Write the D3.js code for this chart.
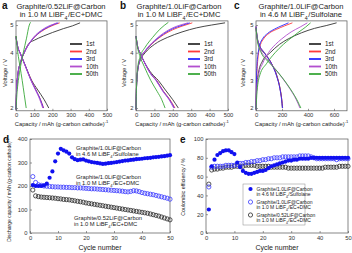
<!DOCTYPE html>
<html><head><meta charset="utf-8">
<script src="https://cdn.jsdelivr.net/npm/d3@7"></script>
<style>body{margin:0;background:#fff}svg{display:block;font-family:"Liberation Sans",Arial,sans-serif}</style>
</head><body><svg id="chart" width="352" height="253"></svg>
<script>
// ---------- data ----------
const cycleLabels = ["1st","2nd","3rd","10th","50th"];
const cycleColors = ["#333333","#ff3b3b","#2a2aff","#b24fcf","#3aa83a"];

// Panel a : Graphite/0.52LiF@Carbon in 1.0 M LiBF4/EC+DMC  ([capacity, voltage])
const aCharge = [
  [[0,1.95],[3,2.6],[10,3.2],[25,3.65],[45,4.0],[70,4.33],[100,4.45],[150,4.6],[200,4.73],[260,4.87],[310,4.97],[352,5.08]],
  [[0,1.95],[3,2.6],[10,3.2],[25,3.65],[45,4.0],[70,4.3],[100,4.55],[140,4.77],[180,4.92],[215,5.02],[240,5.08]],
  [[0,1.95],[3,2.6],[10,3.2],[25,3.65],[45,4.0],[70,4.3],[100,4.56],[138,4.78],[176,4.93],[210,5.03],[232,5.08]],
  [[0,1.95],[3,2.6],[10,3.2],[25,3.65],[45,4.0],[70,4.31],[98,4.57],[135,4.79],[172,4.94],[205,5.03],[225,5.08]],
  [[0,1.95],[5,2.5],[13,3.0],[25,3.5],[40,4.0],[57,4.5],[73,5.0],[80,5.1]]
];
const aDischarge = [
  [[0,4.6],[10,4.2],[22,4.0],[50,3.55],[86,3.0],[120,2.65],[155,2.3],[180,2.0]],
  [[0,4.55],[10,4.2],[22,4.0],[50,3.55],[84,3.0],[110,2.65],[135,2.3],[152,2.0]],
  [[0,4.55],[10,4.2],[22,4.0],[50,3.55],[83,3.0],[109,2.65],[134,2.3],[150,2.0]],
  [[0,4.55],[10,4.2],[22,4.0],[49,3.55],[82,3.0],[107,2.65],[131,2.3],[147,2.0]],
  [[0,4.6],[10,4.0],[22,3.5],[34,3.0],[45,2.5],[56,2.0]]
];

// Panel b : Graphite/1.0LiF@Carbon in 1.0 M LiBF4/EC+DMC
const bCharge = [
  [[0,1.95],[3,2.8],[10,3.4],[25,3.75],[50,4.0],[100,4.3],[170,4.55],[250,4.75],[330,4.9],[410,5.0],[484,5.08]],
  [[0,1.95],[3,2.8],[10,3.4],[25,3.8],[50,4.05],[100,4.4],[150,4.65],[200,4.83],[250,4.96],[306,5.08]],
  [[0,1.95],[3,2.8],[10,3.4],[25,3.8],[50,4.06],[100,4.42],[150,4.68],[200,4.87],[250,4.99],[292,5.08]],
  [[0,1.95],[3,2.8],[10,3.4],[25,3.8],[50,4.07],[100,4.44],[150,4.71],[200,4.9],[245,5.01],[282,5.08]],
  [[0,1.95],[3,2.8],[10,3.5],[25,3.9],[50,4.2],[90,4.55],[130,4.85],[176,5.1]]
];
const bDischarge = [
  [[0,4.6],[8,4.25],[22,4.0],[50,3.6],[85,3.25],[121,3.0],[160,2.65],[200,2.3],[230,2.0]],
  [[0,4.6],[8,4.25],[22,4.0],[50,3.6],[80,3.25],[112,3.0],[150,2.6],[185,2.3],[212,2.0]],
  [[0,4.6],[8,4.25],[22,4.0],[50,3.6],[79,3.25],[110,3.0],[148,2.6],[182,2.3],[208,2.0]],
  [[0,4.6],[8,4.25],[22,4.0],[49,3.6],[78,3.25],[108,3.0],[146,2.6],[180,2.3],[205,2.0]],
  [[0,4.6],[8,4.2],[20,3.9],[45,3.5],[80,3.0],[115,2.6],[140,2.3],[158,2.0]]
];

// Panel c : Graphite/1.0LiF@Carbon in 4.6 M LiBF4/Sulfolane
const cCharge = [
  [[0,1.95],[5,2.7],[20,3.3],[50,3.7],[109,4.0],[180,4.3],[248,4.5],[350,4.72],[450,4.88],[540,4.98],[620,5.08]],
  [[0,1.95],[3,2.8],[10,3.5],[20,4.0],[35,4.3],[58,4.5],[100,4.7],[160,4.85],[220,4.97],[280,5.08]],
  [[0,1.95],[3,2.9],[8,3.6],[17,4.0],[30,4.3],[50,4.5],[90,4.7],[145,4.86],[200,4.98],[250,5.08]],
  [[0,1.95],[5,2.6],[20,3.2],[50,3.6],[96,4.0],[150,4.3],[198,4.5],[270,4.75],[340,4.93],[395,5.08]],
  [[0,1.95],[8,2.6],[30,3.2],[80,3.6],[147,4.0],[210,4.3],[261,4.5],[330,4.75],[380,4.92],[420,5.08]]
];
const cDischarge = [
  [[0,4.9],[10,4.5],[30,4.2],[70,3.95],[120,3.6],[165,3.1],[185,2.7],[198,2.3],[203,2.0]],
  [[0,4.95],[8,4.6],[25,4.3],[65,4.0],[115,3.65],[160,3.15],[185,2.7],[198,2.3],[205,2.0]],
  [[0,4.95],[8,4.6],[25,4.3],[64,4.0],[114,3.65],[159,3.15],[184,2.7],[197,2.3],[204,2.0]],
  [[0,4.9],[10,4.5],[35,4.1],[80,3.8],[140,3.45],[200,3.1],[260,2.7],[310,2.3],[338,2.0]],
  [[0,4.9],[12,4.4],[40,4.0],[90,3.7],[150,3.4],[210,3.05],[270,2.65],[320,2.25],[345,2.0]]
];

// Panels d & e : per cycle 1..50
const cycles = d3.range(1, 51);
const capSulfolane = [204,200,200,200,203,210,235,262,305,338,358,352,346,338,322,314,310,312,313,308,
  305,302,300,298,296,294,295,297,298,300,302,304,306,308,309,311,312,314,315,316,318,319,320,322,323,324,326,327,329,331];
const capEC10 = [240,215,205,203,200,199,198,197,196,196,195,195,194,194,193,193,192,192,191,190,
  189,188,188,187,186,185,184,183,182,181,180,179,178,176,175,177,180,179,176,172,169,167,165,163,160,157,154,151,148,144];
const capEC052 = [183,158,155,153,152,151,150,149,148,146,145,143,142,141,139,137,135,133,131,128,
  126,124,122,120,118,116,114,112,110,108,106,104,102,100,98,96,94,92,90,88,86,84,81,78,75,72,68,64,60,56];
const ceSulfolane = [25,71,78,83,85,87,88,88,86,84,75,70,66,64,63,63,64,65,66,66,
  67,69,71,72,73,74,75,76,77,77,78,78,79,79,79,79,80,80,80,80,80,80,80,80,80,80,80,80,80,80];
const ceEC10 = [49,70,71,71,71,71,72,72,72,72,73,74,74,75,75,76,76,77,77,78,
  78,79,79,80,80,80,81,81,81,81,81,81,82,82,82,82,81,80,79,79,79,79,79,79,79,78,79,79,79,79];
const ceEC052 = [52,67,68,68,69,69,70,70,70,71,71,71,71,72,72,72,72,71,71,71,
  71,71,70,70,70,70,70,70,69,69,69,69,69,69,69,69,69,69,69,69,69,70,70,70,70,70,71,71,71,71];

const voltTicks = [2,3,4,5];
const capTicksAB = [0,100,200,300,400,500];
const capTicksC = [0,200,400,600];
const cycleTicks = [0,10,20,30,40,50];
const dTicks = [0,100,200,300,400];
const eTicks = [0,20,40,60,80,100];

// ---------- drawing ----------
const svg = d3.select("#chart");
svg.append("rect").attr("width",352).attr("height",253).attr("fill","#fff");
const AX = "#555";
const fmt = d3.format("~g");

function frame(x, y, xt, yt){
  const g = svg.append("g");
  const [x0,x1] = x.range(), [y0,y1] = y.range();
  const ax = g.append("g").attr("transform",`translate(0,${y0})`)
    .call(d3.axisBottom(x).tickValues(xt).tickFormat(fmt).tickSizeInner(-2).tickSizeOuter(0).tickPadding(2.5));
  const ay = g.append("g").attr("transform",`translate(${x0},0)`)
    .call(d3.axisLeft(y).tickValues(yt).tickFormat(fmt).tickSizeInner(-2).tickSizeOuter(0).tickPadding(2.5));
  [ax,ay].forEach(a=>{
    a.select(".domain").remove();
    a.selectAll("line").attr("stroke",AX).attr("stroke-width",0.6);
    a.selectAll("text").attr("font-size",5.8).attr("fill","#333").attr("font-family","Liberation Sans, Arial, sans-serif");
  });
  g.append("rect").attr("x",x0).attr("y",y1).attr("width",x1-x0).attr("height",y0-y1)
    .attr("fill","none").attr("stroke",AX).attr("stroke-width",0.7);
  return g;
}

function richText(parent, x, y, parts, size, anchor, extra){
  const t = parent.append("text").attr("x",x).attr("y",y).attr("font-size",size)
    .attr("text-anchor",anchor||"start").attr("fill", "#222");
  if (extra) extra(t);
  parts.forEach(p=>{
    if (typeof p === "string") t.append("tspan").text(p);
    else if (p.sub) { t.append("tspan").attr("dy",size*0.3).attr("font-size",size*0.7).text(p.sub);
                      t.append("tspan").attr("dy",-size*0.3).text("\u200A"); }
    else if (p.sup) { t.append("tspan").attr("dy",-size*0.35).attr("font-size",size*0.7).text(p.sup);
                      t.append("tspan").attr("dy",size*0.35).text(""); }
  });
  return t;
}

function panelLetter(x,y,l){
  svg.append("text").attr("x",x).attr("y",y).attr("font-size",10).attr("font-weight","bold").attr("fill","#111").text(l);
}

// top panels
const vScale = d3.scaleLinear().domain([1.9,5.15]).range([110.8,20.9]);
const topPanels = [
  {letter:"a", lx:2, xr:[16,107], dom:[0,500], ticks:capTicksAB, charge:aCharge, dis:aDischarge,
   t1:"Graphite/0.52LiF@Carbon", t2:["in 1.0 M LiBF",{sub:"4"},"/EC+DMC"], tx:61, ylx:7, legX:70},
  {letter:"b", lx:120, xr:[136,228], dom:[0,500], ticks:capTicksAB, charge:bCharge, dis:bDischarge,
   t1:"Graphite/1.0LiF@Carbon", t2:["in 1.0 M LiBF",{sub:"4"},"/EC+DMC"], tx:179, ylx:126, legX:188},
  {letter:"c", lx:234, xr:[256,347], dom:[0,700], ticks:capTicksC, charge:cCharge, dis:cDischarge,
   t1:"Graphite/1.0LiF@Carbon", t2:["in 4.6 M LiBF",{sub:"4"},"/Sulfolane"], tx:301, ylx:245, legX:309}
];

topPanels.forEach(p=>{
  const x = d3.scaleLinear().domain(p.dom).range(p.xr);
  frame(x, vScale, p.ticks, voltTicks);
  const line = d3.line().x(d=>x(d[0])).y(d=>vScale(d[1])).curve(d3.curveMonotoneX);
  const g = svg.append("g");
  for (let i=0;i<5;i++){
    [p.charge[i], p.dis[i]].forEach(s=>{
      g.append("path").attr("d",line(s)).attr("fill","none").attr("stroke",cycleColors[i]).attr("stroke-width",0.9);
    });
  }
  // legend
  cycleLabels.forEach((lab,i)=>{
    const yy = 44 + i*7.5;
    svg.append("line").attr("x1",p.legX).attr("x2",p.legX+12).attr("y1",yy).attr("y2",yy)
      .attr("stroke",cycleColors[i]).attr("stroke-width",1.8);
    svg.append("text").attr("x",p.legX+16).attr("y",yy+2.2).attr("font-size",6.3).attr("fill","#222").text(lab);
  });
  panelLetter(p.lx, 9, p.letter);
  svg.append("text").attr("x",p.tx).attr("y",8.5).attr("font-size",7.6).attr("text-anchor","middle").attr("fill","#222").text(p.t1);
  richText(svg, p.tx, 17.3, p.t2, 7.6, "middle");
  const mid = (p.xr[0]+p.xr[1])/2;
  richText(svg, mid, 125.5, ["Capacity / mAh (g-carbon cathode)",{sup:"-1"}], 5.8, "middle");
  svg.append("text").attr("transform",`translate(${p.ylx},73) rotate(-90)`).attr("font-size",5.8)
    .attr("text-anchor","middle").attr("fill","#222").text("Voltage / V");
});

// panel d
const xd = d3.scaleLinear().domain([0,50]).range([30,170]);
const yd = d3.scaleLinear().domain([0,400]).range([233,139]);
frame(xd, yd, cycleTicks, dTicks);
const R = 2.1;
function dots(x, y, vals, fill, stroke){
  svg.append("g").selectAll("circle").data(vals).join("circle")
    .attr("cx",(d,i)=>x(cycles[i])).attr("cy",d=>y(d)).attr("r",R)
    .attr("fill",fill).attr("stroke",stroke).attr("stroke-width",fill==="none"?0.8:0);
}
dots(xd, yd, capEC052, "none", "#2a2a2a");
dots(xd, yd, capEC10, "none", "#3a3aff");
dots(xd, yd, capSulfolane, "#1010f0", "#1010f0");
panelLetter(3, 143, "d");
richText(svg, 76, 150, ["Graphite/1.0LiF@Carbon"], 5.8, "start");
richText(svg, 76, 156.3, ["in 4.6 M LiBF",{sub:"4"},"/Sulfolane"], 5.8, "start");
richText(svg, 76, 178.5, ["Graphite/1.0LiF@Carbon"], 5.8, "start");
richText(svg, 76, 184.8, ["in 1.0 M LiBF",{sub:"4"},"/EC+DMC"], 5.8, "start");
richText(svg, 74, 219.5, ["Graphite/0.52LiF@Carbon"], 5.8, "start");
richText(svg, 74, 225.8, ["in 1.0 M LiBF",{sub:"4"},"/EC+DMC"], 5.8, "start");
svg.append("text").attr("x",100).attr("y",249.5).attr("font-size",7).attr("text-anchor","middle").attr("fill","#222").text("Cycle number");
richText(svg, 0, 0, ["Discharge capacity / mAh (g-carbon cathode)",{sup:"-1"}], 5, "middle",
  t=>t.attr("transform","translate(10.5,190) rotate(-90)"));

// panel e
const xe = d3.scaleLinear().domain([0,50]).range([206,348]);
const ye = d3.scaleLinear().domain([0,100]).range([233,139]);
frame(xe, ye, cycleTicks, eTicks);
dots(xe, ye, ceEC052, "none", "#2a2a2a");
dots(xe, ye, ceEC10, "none", "#3a3aff");
dots(xe, ye, ceSulfolane, "#1010f0", "#1010f0");
panelLetter(180, 143, "e");
svg.append("text").attr("x",277).attr("y",249.5).attr("font-size",7).attr("text-anchor","middle").attr("fill","#222").text("Cycle number");
svg.append("text").attr("transform","translate(185,187) rotate(-90)").attr("font-size",5.3)
  .attr("text-anchor","middle").attr("fill","#222").text("Coulombic efficiency / %");
// legend e
svg.append("rect").attr("x",243).attr("y",184).attr("width",62).attr("height",41)
  .attr("fill","#fff").attr("stroke","#888").attr("stroke-width",0.5);
const legE = [
  {fill:"#1010f0", stroke:"#1010f0", l2:["in 4.6 M LiBF",{sub:"4"},"/Sulfolane"], l1:"Graphite/1.0LiF@Carbon"},
  {fill:"none", stroke:"#3a3aff", l2:["in 1.0 M LiBF",{sub:"4"},"/EC+DMC"], l1:"Graphite/1.0LiF@Carbon"},
  {fill:"none", stroke:"#2a2a2a", l2:["in 1.0 M LiBF",{sub:"4"},"/EC+DMC"], l1:"Graphite/0.52LiF@Carbon"}
];
legE.forEach((e,i)=>{
  const yy = 189 + i*13;
  svg.append("circle").attr("cx",250.5).attr("cy",yy).attr("r",R).attr("fill",e.fill)
    .attr("stroke",e.stroke).attr("stroke-width",e.fill==="none"?0.8:0);
  svg.append("text").attr("x",256.5).attr("y",yy+1.7).attr("font-size",5).attr("fill","#222").text(e.l1);
  richText(svg, 256.5, yy+7, e.l2, 5, "start");
});
</script></body></html>
